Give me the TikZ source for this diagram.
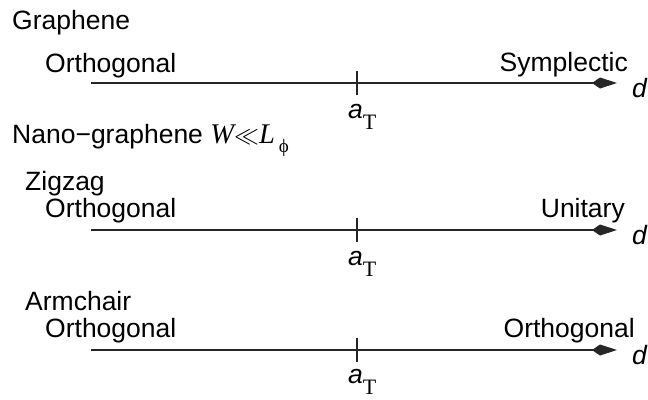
\documentclass[tikz,border=0pt]{standalone}
\usepackage{fontspec}
\setmainfont{Liberation Sans}
\newfontfamily\serif{Liberation Serif}
\usetikzlibrary{arrows.meta}
\begin{document}
\begin{tikzpicture}[x=1pt,y=-1pt,
  every node/.style={inner sep=0pt, font=\fontsize{26.5}{30}\selectfont},
  axis/.style={line width=1.3pt, draw=black!85, -{Kite[length=25pt,width=11pt,inset=8pt]}},
  tickmark/.style={line width=1.3pt, draw=black!85},
  lbl/.style={anchor=base west},
  rlbl/.style={anchor=base east}
]
\useasboundingbox (0,0) rectangle (648,399);
\newcommand{\aT}{\textit{a}\raisebox{-11pt}{\fontsize{22}{22}\selectfont\serif T}}

% Graphene
\node[lbl] (gr) at (12,29) {Graphene};
\node[lbl] (o1) at (45,72) {Orthogonal};
\node[rlbl] (sy) at (628,71) {Symplectic};
\coordinate (s1) at (91,83);
\coordinate (e1) at (617,83);
\coordinate (t1) at (357,83);
\draw[axis] (s1) -- (e1);
\draw[tickmark] ([yshift=12pt]t1) -- ([yshift=-12pt]t1);
\node[lbl] (d1) at (632,97) {\textit{d}};
\node[lbl] (a1) at (348,118) {\aT};

% Nano-graphene
\node[lbl] (ng) at (12,143) {Nano−graphene {\fontsize{28.5}{30}\selectfont\serif\itshape W}{\fontsize{28}{30}\selectfont$\ll$}{\fontsize{28.5}{30}\selectfont\serif\itshape L}\kern4pt\raisebox{-9pt}{\fontsize{19}{19}\selectfont\serif ϕ}};

% Zigzag
\node[lbl] (zz) at (25,190) {Zigzag};
\node[lbl] (o2) at (45,217) {Orthogonal};
\node[rlbl] (un) at (625,217) {Unitary};
\coordinate (s2) at (91,230);
\coordinate (e2) at (617,230);
\coordinate (t2) at (357,230);
\draw[axis] (s2) -- (e2);
\draw[tickmark] ([yshift=12pt]t2) -- ([yshift=-12pt]t2);
\node[lbl] (d2) at (632,244) {\textit{d}};
\node[lbl] (a2) at (348,265) {\aT};

% Armchair
\node[lbl] (ac) at (25,310) {Armchair};
\node[lbl] (o3) at (45,337) {Orthogonal};
\node[rlbl] (o4) at (635,337) {Orthogonal};
\coordinate (s3) at (91,350);
\coordinate (e3) at (617,350);
\coordinate (t3) at (357,350);
\draw[axis] (s3) -- (e3);
\draw[tickmark] ([yshift=12pt]t3) -- ([yshift=-12pt]t3);
\node[lbl] (d3) at (632,364) {\textit{d}};
\node[lbl] (a3) at (348,383) {\aT};
\end{tikzpicture}
\end{document}
